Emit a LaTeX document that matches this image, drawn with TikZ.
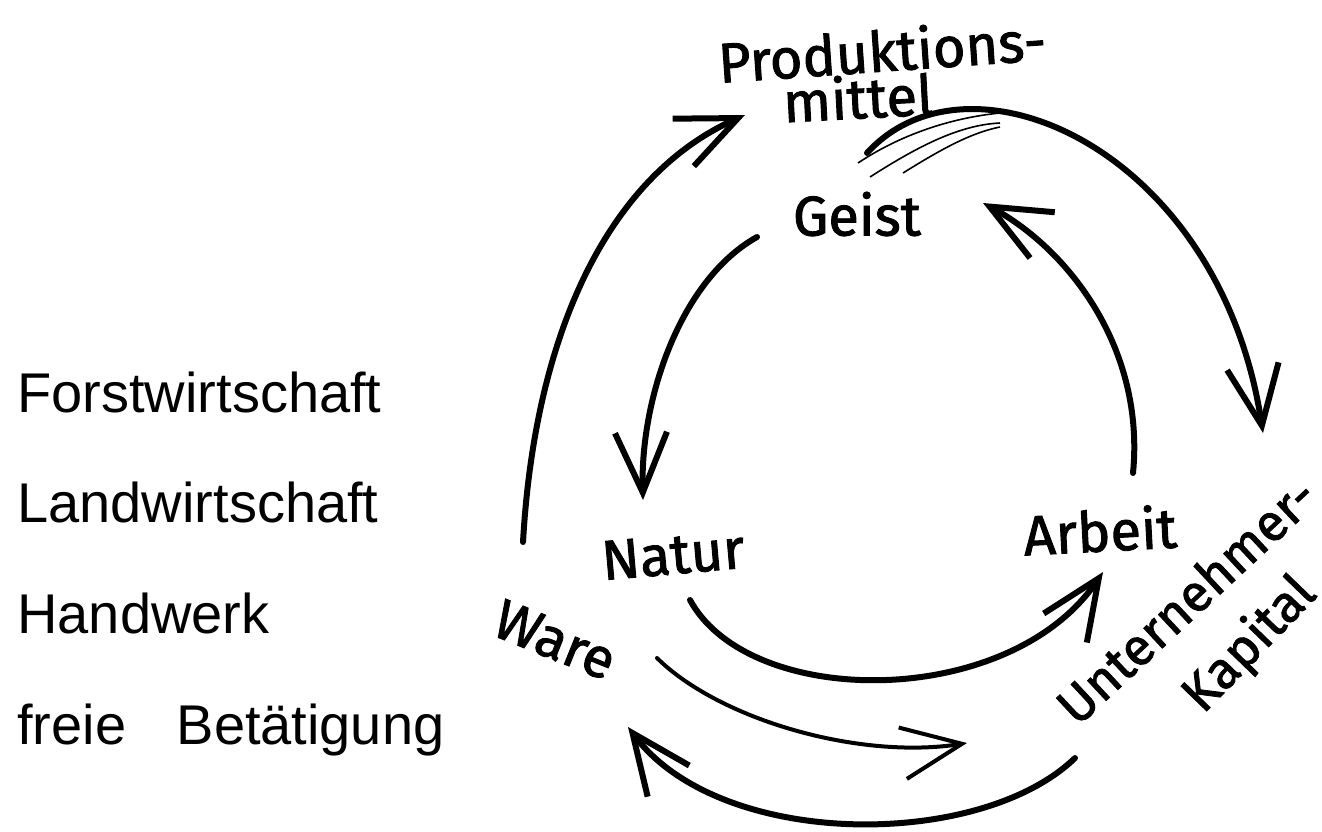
\documentclass[tikz,border=0pt]{standalone}
\usepackage{fontspec}
\setmainfont{Liberation Sans}
\newfontfamily\handfont{Fira Sans}[FakeBold=1.6]
\usepackage{tikz}
\usetikzlibrary{arrows.meta}

\begin{document}
\begin{tikzpicture}[x=0.5pt,y=-0.5pt,
  hand/.style={line width=3pt,line cap=round,line join=round},
  barb/.style={-{Straight Barb[length=30pt,width=26pt]}},
  lbl/.style={font=\handfont\fontsize{28}{30}\selectfont,inner sep=0pt},
  sector/.style={font=\fontsize{28}{30}\selectfont,anchor=base west,inner sep=0pt}]
\useasboundingbox (0,0) rectangle (1322,831);
% left column
\foreach \i/\y/\t in %
{1/412/Forstwirtschaft,2/522/Landwirtschaft,3/633/Handwerk,4/744/{freie\hspace{0.9em}Betätigung}} {
   \node[sector] (sec\i) at (17,\y) {\t};
}
% labels of the circle
\node[lbl,rotate=4] (prod) at (882,50) {Produktions-};
\node[lbl,rotate=3] (mittel) at (858,97) {mittel};
\node[lbl] (geist) at (857,214) {Geist};
\node[lbl,rotate=5] (natur) at (673,555) {Natur};
\node[lbl,rotate=3] (arbeit) at (1100,530) {Arbeit};
\node[lbl,rotate=-22] (ware) at (555,640) {Ware};
\node[lbl,rotate=43,font=\handfont\fontsize{26}{28}\selectfont] (unter) at (1186,600) {Unternehmer-};
\node[lbl,rotate=46,font=\handfont\fontsize{26}{28}\selectfont] (kapital) at (1250,645) {Kapital};
% ends of the arrows
\coordinate (w1) at (523,542);   \coordinate (p1) at (745,115);
\coordinate (p2) at (867,153);   \coordinate (u1) at (1263,433);
\coordinate (g1) at (757,237);   \coordinate (n1) at (643,500);
\coordinate (a1) at (1133,473);  \coordinate (g2) at (983,203);
\coordinate (n2) at (690,600);   \coordinate (a2) at (1103,572);
\coordinate (w2) at (657,658);   \coordinate (k1) at (967,743);
\coordinate (u2) at (1075,758);  \coordinate (w3) at (628,727);
% outer circle
\draw[hand,barb] (w1) .. controls (535,330) and (610,175) .. (p1);
\draw[hand,barb] (p2) .. controls (970,40) and (1220,150) .. (u1);
\draw[line width=0.8pt] (858,163) .. controls (900,135) and (950,118) .. (1000,113);
\draw[line width=0.8pt] (870,177) .. controls (920,145) and (960,125) .. (1000,123);
\draw[line width=0.8pt] (903,173) .. controls (940,150) and (970,133) .. (1000,127);
% inner circle
\draw[hand,barb] (g1) .. controls (680,280) and (640,400) .. (n1);
\draw[hand,barb] (a1) .. controls (1145,350) and (1070,250) .. (g2);
\draw[hand,barb] (n2) .. controls (750,710) and (1010,710) .. (a2);
% bottom
\draw[hand,line width=2pt,barb] (w2) .. controls (720,720) and (860,760) .. (k1);
\draw[hand,barb] (u2) .. controls (980,850) and (720,850) .. (w3);
\end{tikzpicture}
\end{document}
